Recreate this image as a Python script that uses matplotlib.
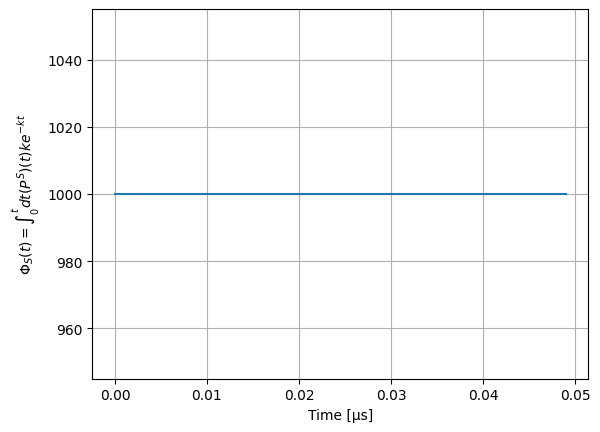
import matplotlib
matplotlib.use("Agg")
import matplotlib.pyplot as plt

# Data: flat line at 1000
time_us = [0.0, 0.049]
phi_s = [1000.0, 1000.0]

fig, ax = plt.subplots(figsize=(6.4, 4.8), dpi=100)
ax.plot(time_us, phi_s)
ax.set_xlabel('Time [µs]')
ax.set_ylabel(r'$\Phi_S(t) = \int_0^t dt (P^S)(t) k e^{-kt}$')
ax.grid(True)
fig.savefig('out.png', bbox_inches='tight')
